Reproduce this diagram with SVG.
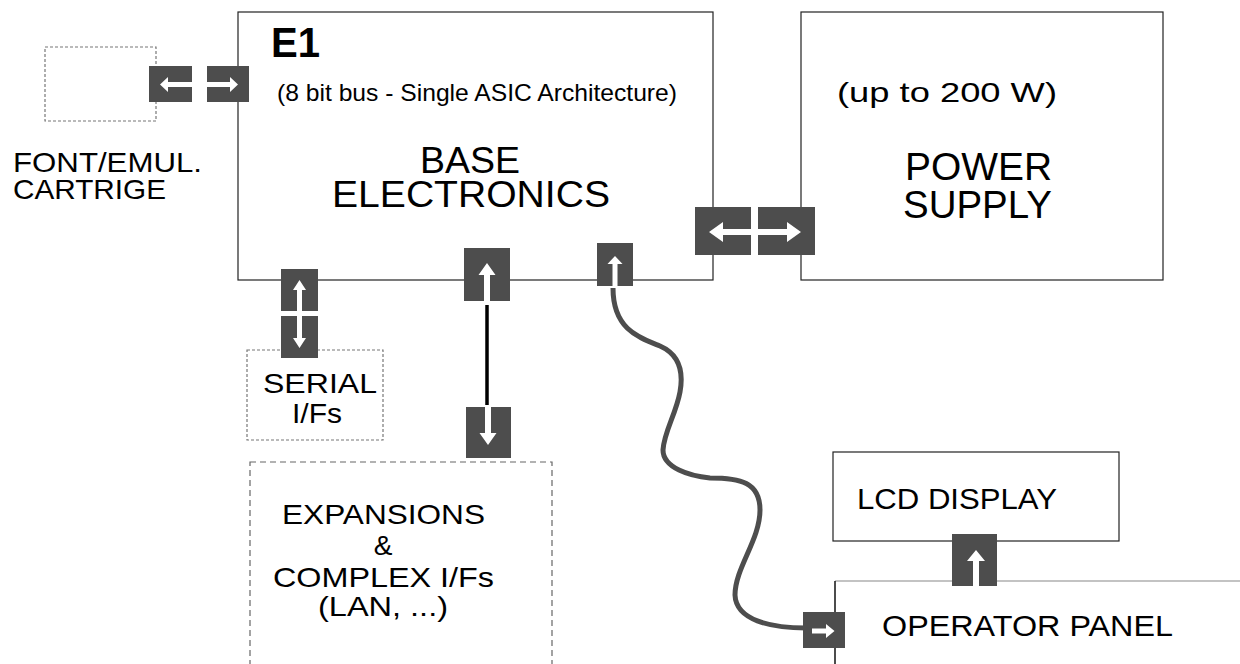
<svg xmlns="http://www.w3.org/2000/svg" width="1240" height="664" viewBox="0 0 1240 664">
<style>
text{font-family:"Liberation Sans",Arial,Helvetica,sans-serif;fill:#000}
.box{fill:#fff;stroke:#222;stroke-width:1.2}
.dash{fill:none;stroke:#777;stroke-width:1.2;stroke-dasharray:3 2}
.dashl{fill:none;stroke:#666;stroke-width:1.2;stroke-dasharray:6 4}
.blk{fill:#4d4d4d}
.arr{fill:#fff}
.t28{font-size:28px}
</style>
<rect width="1240" height="664" fill="#fff"/>
<g id="base-electronics">
<rect class="box" x="238" y="12" width="475" height="268"/>
<text x="271" y="57" font-size="42" font-weight="bold" textLength="49" lengthAdjust="spacingAndGlyphs">E1</text>
<text x="277" y="101" font-size="24" textLength="400" lengthAdjust="spacingAndGlyphs">(8 bit bus - Single ASIC Architecture)</text>
<text x="420" y="173" font-size="36" textLength="100" lengthAdjust="spacingAndGlyphs">BASE</text>
<text x="332" y="207" font-size="36" textLength="278" lengthAdjust="spacingAndGlyphs">ELECTRONICS</text>
</g>
<g id="power-supply">
<rect class="box" x="801" y="12" width="362" height="268"/>
<text x="837" y="102" class="t28" textLength="220" lengthAdjust="spacingAndGlyphs">(up to 200 W)</text>
<text x="905" y="180" font-size="38" textLength="147" lengthAdjust="spacingAndGlyphs">POWER</text>
<text x="903" y="218" font-size="38" textLength="149" lengthAdjust="spacingAndGlyphs">SUPPLY</text>
</g>
<g id="font-cartridge">
<rect class="dash" x="45" y="47" width="111" height="74"/>
<text x="13" y="172" class="t28" textLength="189" lengthAdjust="spacingAndGlyphs">FONT/EMUL.</text>
<text x="13" y="199" class="t28" textLength="153" lengthAdjust="spacingAndGlyphs">CARTRIGE</text>
</g>
<g id="serial-ifs">
<rect class="dash" x="247" y="350" width="136" height="90"/>
<text x="263" y="393" class="t28" textLength="114" lengthAdjust="spacingAndGlyphs">SERIAL</text>
<text x="292" y="423" class="t28" textLength="50" lengthAdjust="spacingAndGlyphs">I/Fs</text>
</g>
<g id="expansions">
<rect class="dashl" x="250" y="462" width="302" height="220"/>
<text x="282" y="524" class="t28" textLength="203" lengthAdjust="spacingAndGlyphs">EXPANSIONS</text>
<text x="383" y="555" class="t28" text-anchor="middle">&amp;</text>
<text x="273" y="587" class="t28" textLength="221" lengthAdjust="spacingAndGlyphs">COMPLEX I/Fs</text>
<text x="318" y="616" class="t28" textLength="130" lengthAdjust="spacingAndGlyphs">(LAN, ...)</text>
</g>
<g id="lcd-display">
<rect class="box" x="833" y="452" width="286" height="89"/>
<text x="857" y="509" font-size="29" textLength="200" lengthAdjust="spacingAndGlyphs">LCD DISPLAY</text>
</g>
<g id="operator-panel">
<path d="M835,581 H1245" fill="none" stroke="#888" stroke-width="1.2"/>
<path d="M835,581 V670" fill="none" stroke="#111" stroke-width="1.5"/>
<text x="882" y="636" font-size="29" textLength="291" lengthAdjust="spacingAndGlyphs">OPERATOR PANEL</text>
</g>
<g id="connectors">
<path d="M613,288 C613,330 640,338 660,346 C678,354 684,370 680,392 C676,414 664,432 663,450 C663,468 690,476 710,478 C740,478 760,482 760,510 C760,540 735,568 735,595 C736,620 770,628 806,628" fill="none" stroke="#4d4d4d" stroke-width="5"/>
<path d="M487,305 V405" stroke="#000" stroke-width="3.5"/>
<rect class="blk" x="149" y="66" width="43" height="36"/>
<polygon class="arr" points="192,82 168,82 168,77 160,84.5 168,92 168,87 192,87"/>
<rect class="blk" x="207" y="66" width="42" height="36"/>
<polygon class="arr" points="207,82 230,82 230,77 238,84.5 230,92 230,87 207,87"/>
<rect class="blk" x="695" y="207" width="56" height="48"/>
<rect class="blk" x="758" y="207" width="57" height="48"/>
<polygon class="arr" points="709,232 723,222 723,229 787,229 787,222 801,232 787,242 787,235 723,235 723,242"/>
<rect class="blk" x="281" y="269" width="37" height="42"/>
<polygon class="arr" points="297,311 297,290 293,290 299.5,280 306,290 302,290 302,311"/>
<rect class="blk" x="281" y="316" width="37" height="42"/>
<polygon class="arr" points="297,316 297,338 293,338 299.5,348 306,338 302,338 302,316"/>
<rect class="blk" x="464" y="248" width="46" height="53"/>
<polygon class="arr" points="484,301 484,275 478.5,275 487,263 495.5,275 490,275 490,301"/>
<rect class="blk" x="466" y="407" width="45" height="51"/>
<polygon class="arr" points="485,407 485,433 479.5,433 488,445 496.5,433 491,433 491,407"/>
<rect class="blk" x="597" y="243" width="36" height="43"/>
<polygon class="arr" points="612.5,286 612.5,264 607.5,264 615,256 622.5,264 617.5,264 617.5,286"/>
<rect class="blk" x="952" y="534" width="45" height="52"/>
<polygon class="arr" points="973,586 973,561 967,561 976,550 985,561 979,561 979,586"/>
<rect class="blk" x="803" y="612" width="42" height="36"/>
<polygon class="arr" points="812,628.5 826,628.5 826,624 834.5,631 826,638 826,633.5 812,633.5"/>
</g>
</svg>
